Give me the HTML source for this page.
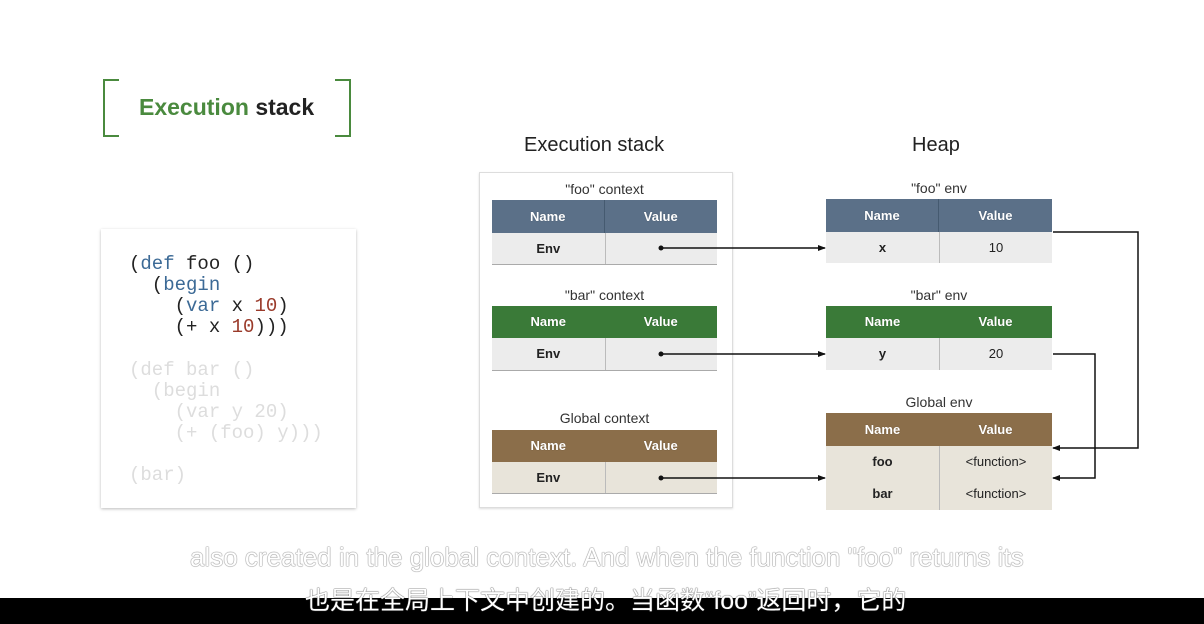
<!DOCTYPE html>
<html><head><meta charset="utf-8"><style>
body{margin:0;width:1204px;height:624px;background:#fff;position:relative;overflow:hidden;font-family:"Liberation Sans",sans-serif}
.a{position:absolute}
.t{position:absolute;font-size:14px;color:#333;text-align:center}
.h{position:absolute;color:#fff;font-weight:bold;font-size:13px;display:flex;text-shadow:0 0 1px #0005}
.h div,.r div{width:50%;text-align:center;box-sizing:border-box}
.r{position:absolute;display:flex;font-size:13px;color:#222;font-weight:bold}
.r div+div{border-left:1px solid #bbb;font-weight:normal}
.code{font-family:"Liberation Mono",monospace;font-size:19px;line-height:21px;white-space:pre;color:#222}
.k{color:#3c6a96}.n{color:#9a3a2a}
</style></head><body>
<div class="a" style="left:103px;top:79px;width:14px;height:54px;border:2px solid #4a8a3e;border-right:none"></div>
<div class="a" style="left:335px;top:79px;width:14px;height:54px;border:2px solid #4a8a3e;border-left:none"></div>
<div class="a" style="left:139px;top:94px;font-size:23px;font-weight:bold;color:#4a8a3e">Execution <span style="color:#222">stack</span></div>

<div class="a" style="left:101px;top:229px;width:255px;height:279px;background:#fff;box-shadow:0 1px 3px #0004"></div>
<div class="a code" style="left:129px;top:254px">(<span class="k">def</span> foo ()
  (<span class="k">begin</span>
    (<span class="k">var</span> x <span class="n">10</span>)
    (+ x <span class="n">10</span>)))</div>
<div class="a code" style="left:129px;top:360px;color:#ddd">(def bar ()
  (begin
    (var y 20)
    (+ (foo) y)))

(bar)</div>

<div class="a" style="left:524px;top:134px;font-size:20px;color:#222">Execution stack</div>
<div class="a" style="left:912px;top:134px;font-size:20px;color:#222">Heap</div>
<div class="a" style="left:479px;top:172px;width:252px;height:334px;border:1px solid #ddd;box-shadow:0 1px 2px #0002"></div>

<div class="t" style="left:492px;top:181px;width:225px">"foo" context</div>
<div class="h" style="left:492px;top:200px;width:225px;height:33px;line-height:33px;background:#5b7088"><div style="border-right:1px solid #455a70">Name</div><div>Value</div></div>
<div class="r" style="left:492px;top:233px;width:225px;height:31px;line-height:31px;background:#ececec;border-bottom:1px solid #aaa"><div>Env</div><div></div></div>

<div class="t" style="left:492px;top:287px;width:225px">"bar" context</div>
<div class="h" style="left:492px;top:306px;width:225px;height:32px;line-height:32px;background:#3a7a38"><div>Name</div><div>Value</div></div>
<div class="r" style="left:492px;top:338px;width:225px;height:32px;line-height:32px;background:#ececec;border-bottom:1px solid #aaa"><div>Env</div><div></div></div>

<div class="t" style="left:492px;top:410px;width:225px">Global context</div>
<div class="h" style="left:492px;top:430px;width:225px;height:32px;line-height:32px;background:#8b6e4a"><div>Name</div><div>Value</div></div>
<div class="r" style="left:492px;top:462px;width:225px;height:31px;line-height:31px;background:#e8e4da;border-bottom:1px solid #aaa"><div>Env</div><div></div></div>

<div class="t" style="left:826px;top:180px;width:226px">"foo" env</div>
<div class="h" style="left:826px;top:199px;width:226px;height:33px;line-height:33px;background:#5b7088"><div style="border-right:1px solid #455a70">Name</div><div>Value</div></div>
<div class="r" style="left:826px;top:232px;width:226px;height:31px;line-height:31px;background:#ececec"><div>x</div><div>10</div></div>

<div class="t" style="left:826px;top:287px;width:226px">"bar" env</div>
<div class="h" style="left:826px;top:306px;width:226px;height:32px;line-height:32px;background:#3a7a38"><div>Name</div><div>Value</div></div>
<div class="r" style="left:826px;top:338px;width:226px;height:32px;line-height:32px;background:#ececec"><div>y</div><div>20</div></div>

<div class="t" style="left:826px;top:394px;width:226px">Global env</div>
<div class="h" style="left:826px;top:413px;width:226px;height:33px;line-height:33px;background:#8b6e4a"><div>Name</div><div>Value</div></div>
<div class="r" style="left:826px;top:446px;width:226px;height:32px;line-height:32px;background:#e8e4da;border-bottom:1px solid #d0ccc0"><div>foo</div><div>&lt;function&gt;</div></div>
<div class="r" style="left:826px;top:478px;width:226px;height:32px;line-height:32px;background:#e8e4da"><div>bar</div><div>&lt;function&gt;</div></div>

<svg class="a" style="left:0;top:0" width="1204" height="624">
<defs><marker id="m" markerWidth="8" markerHeight="8" refX="7" refY="4" orient="auto" markerUnits="userSpaceOnUse"><path d="M0,1L8,4L0,7z" fill="#111"/></marker></defs>
<g stroke="#111" stroke-width="1.5" fill="none">
<path d="M661,248H825" marker-end="url(#m)"/>
<path d="M661,354H825" marker-end="url(#m)"/>
<path d="M661,478H825" marker-end="url(#m)"/>
<path d="M1053,232H1138V448H1053" marker-end="url(#m)"/>
<path d="M1053,354H1095V478H1053" marker-end="url(#m)"/>
</g>
<circle cx="661" cy="248" r="2.5" fill="#111"/><circle cx="661" cy="354" r="2.5" fill="#111"/><circle cx="661" cy="478" r="2.5" fill="#111"/>
</svg>

<div class="a" style="left:0;top:598px;width:1204px;height:26px;background:#000"></div>
<div class="a" style="left:190px;top:542px;font-size:26px;color:#fff;text-shadow:0 0 1px #888,0 0 1px #888,0 0 1px #888;white-space:nowrap">also created in the global context. And when the function "foo" returns its</div>
<div class="a" style="left:305px;top:581px;font-size:25px;color:#fff;font-family:'Liberation Sans','Noto Sans CJK SC',sans-serif;text-shadow:0 0 1px #444,0 0 1px #444;white-space:nowrap">也是在全局上下文中创建的。当函数“foo”返回时，它的</div>
</body></html>
